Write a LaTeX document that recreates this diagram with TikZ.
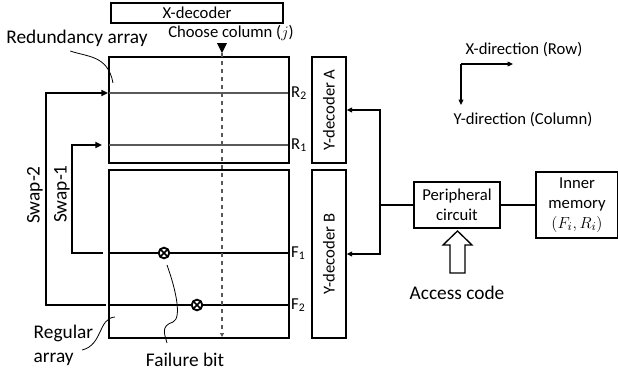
\documentclass[tikz,border=0pt]{standalone}
\usepackage{fontspec}
\setmainfont{Carlito}
\usetikzlibrary{arrows.meta}

\tikzset{
  box/.style={draw, line width=1pt, inner sep=0pt, align=center},
  rowline/.style={line width=0.8pt},
  rowlabel/.style={anchor=west, inner sep=2pt, text=black},
  swaparrow/.style={line width=1.4pt, -{Triangle[length=5pt,width=4.5pt]}},
  thinarrow/.style={line width=0.9pt, -{Triangle[length=4pt,width=3.5pt]}},
  leader/.style={line width=0.6pt},
  biglabel/.style={font=\fontsize{14.5}{18}\selectfont},
  failbit/.style={circle, draw, fill=white, line width=1.4pt, minimum size=8pt, inner sep=0pt,
    path picture={
      \draw[line width=1.2pt] (path picture bounding box.north west) -- (path picture bounding box.south east);
      \draw[line width=1.2pt] (path picture bounding box.north east) -- (path picture bounding box.south west);
    }},
}

\begin{document}
\begin{tikzpicture}[x=0.75pt, y=-0.75pt, font=\fontsize{12.5}{15}\selectfont]
  \useasboundingbox (0,0) rectangle (618,376);

  % decoders and arrays
  \node[box, minimum width=129pt, minimum height=15pt] (xdec) at (197,13) {X-decoder};
  \node[box, minimum width=135pt, minimum height=79.5pt] (redarr) at (199,110) {};
  \node[box, minimum width=135pt, minimum height=126pt] (regarr) at (199,254) {};
  \node[box, minimum width=25.5pt, minimum height=79.5pt] (ydecA) at (329,110) {\rotatebox{90}{Y-decoder A}};
  \node[box, minimum width=25.5pt, minimum height=126pt] (ydecB) at (329,254) {\rotatebox{90}{Y-decoder B}};
  \node[box, minimum width=64.5pt, minimum height=34.5pt] (periph) at (457,205) {Peripheral\\circuit};
  \node[box, minimum width=61.5pt, minimum height=49.5pt] (inner) at (577,205) {Inner\\memory\\$(F_i,R_i)$};

  % rows
  \coordinate (r2w) at (109,93);  \coordinate (r2e) at (288,93);
  \coordinate (r1w) at (109,145); \coordinate (r1e) at (288,145);
  \coordinate (f1w) at (109,253); \coordinate (f1e) at (288,253);
  \coordinate (f2w) at (109,305); \coordinate (f2e) at (288,305);
  \draw[rowline, gray!70!black] (r2w) -- (r2e) node[rowlabel] (rtwo) {R\textsubscript{2}};
  \draw[rowline, gray!70!black] (r1w) -- (r1e) node[rowlabel] (rone) {R\textsubscript{1}};
  \draw[rowline] (f1w) -- (f1e) node[rowlabel] (fone) {F\textsubscript{1}};
  \draw[rowline] (f2w) -- (f2e) node[rowlabel] (ftwo) {F\textsubscript{2}};

  % chosen column
  \node (choose) at (231,33) {Choose column ($j$)};
  \coordinate (coltop) at (222,53);
  \coordinate (colbot) at (222,337);
  \fill (217,43) -- (227,43) -- (coltop) -- cycle;
  \draw[dashed, gray!70!black, line width=0.9pt, -{Triangle[length=3pt,width=3pt]}] (coltop) -- (colbot);

  % failure bits
  \node[failbit] (fb1) at (164,253) {};
  \node[failbit] (fb2) at (197,305) {};

  % swaps
  \coordinate (s1from) at (103,253); \coordinate (s1to) at (102,145);
  \coordinate (s2from) at (106,305); \coordinate (s2to) at (108,93);
  \draw[swaparrow] (s1from) -- ++(-31,0) |- (s1to);
  \draw[swaparrow] (s2from) -- ++(-60,0) |- (s2to);
  \node[biglabel, rotate=90] (swaptwo) at (35,195) {Swap-2};
  \node[biglabel, rotate=90] (swapone) at (62,194) {Swap-1};

  % labels with leaders
  \node[biglabel] (redlabel) at (77,38) {Redundancy array};
  \coordinate (redtip) at (113,83);
  \draw[leader] ([xshift=-5pt]redlabel.south) .. controls (87,57) and (108,55) .. (redtip);
  \node[biglabel, align=left, anchor=west] (reglabel) at (29,345) {Regular\\array};
  \coordinate (regtip) at (115,317);
  \draw[leader] (82,350) .. controls (103,345) and (98,318) .. (regtip);
  \node[biglabel] (faillabel) at (185,360) {Failure bit};
  \coordinate (failtip) at (167,265);
  \draw[leader] (failtip) .. controls (176,290) and (182,318) .. (173,322) .. controls (160,326) and (165,335) .. (167,343);

  % peripheral connections
  \coordinate (bus) at (380,205);
  \draw[line width=0.9pt] (periph.west) -- (bus);
  \draw[thinarrow] (bus) |- (ydecA.east);
  \draw[thinarrow] (bus) |- (ydecB.east);
  \draw[line width=0.9pt] (periph) -- (inner);

  % access code
  \draw[line width=1pt] (450,273) -- (450,245) -- (443,245) -- (457.5,231) -- (472,245) -- (465,245) -- (465,273) -- cycle;
  \node[biglabel] (access) at (457,293) {Access code};

  % directions
  \coordinate (dircorner) at (461,64);
  \draw[thinarrow] (dircorner) -- (513,64);
  \draw[thinarrow] (dircorner) -- (461,105);
  \node (xdir) at (524,50) {X-direction (Row)};
  \node (ydir) at (523,120) {Y-direction (Column)};
\end{tikzpicture}
\end{document}
